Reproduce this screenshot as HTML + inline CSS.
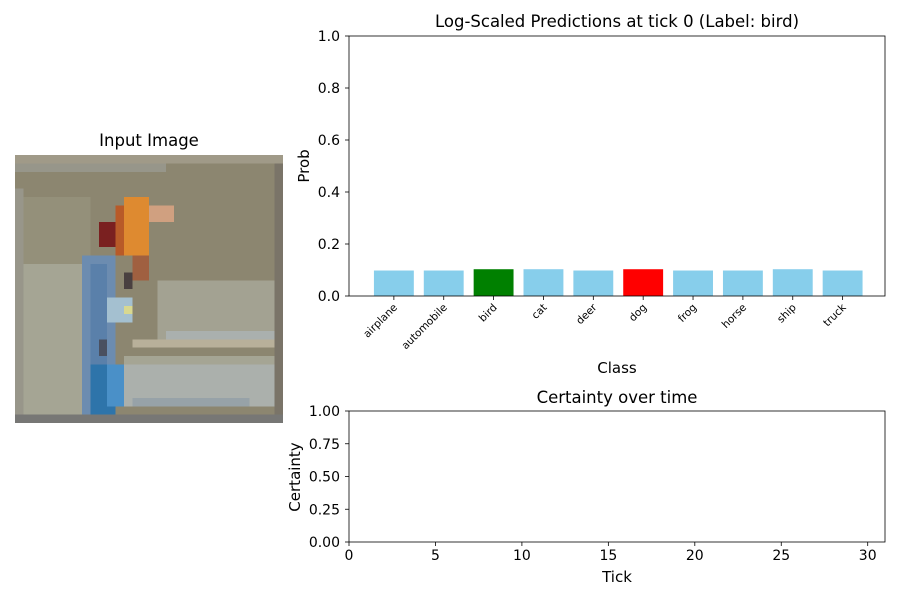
<!DOCTYPE html>
<html><head><meta charset="utf-8"><style>
body{margin:0;background:#fff;font-family:"Liberation Sans","DejaVu Sans",sans-serif}
svg text{font-family:"DejaVu Sans","Liberation Sans",sans-serif}
</style></head><body>
<svg id="fig" width="900" height="600" viewBox="0 0 900 600" xmlns="http://www.w3.org/2000/svg">
<rect width="900" height="600" fill="#fff"/>
<text x="149" y="146" font-size="16.5" text-anchor="middle">Input Image</text>
<g id="img" transform="translate(15,155) scale(8.375)" shape-rendering="crispEdges">
<rect x="0" y="0" width="32" height="32" fill="#8c8670"/>
<rect x="0" y="0" width="32" height="1" fill="#a09a88"/>
<rect x="0" y="1" width="18" height="1" fill="#97968a"/>
<rect x="0" y="4" width="1" height="27" fill="#98968a"/>
<rect x="1" y="5" width="8" height="10" fill="#94907a"/>
<rect x="1" y="13" width="7" height="18" fill="#a5a594"/>
<rect x="17" y="15" width="15" height="7" fill="#a3a292"/>
<rect x="18" y="21" width="14" height="1" fill="#aab0ae"/>
<rect x="14" y="22" width="17" height="1" fill="#b8b09a"/>
<rect x="14" y="23" width="18" height="1" fill="#8c8670"/>
<rect x="13" y="24" width="19" height="1" fill="#a5a594"/>
<rect x="13" y="25" width="18" height="5" fill="#abb0ac"/>
<rect x="14" y="29" width="14" height="1" fill="#97a2a8"/>
<rect x="31" y="1" width="1" height="30" fill="#7a7468"/>
<rect x="0" y="31" width="32" height="1" fill="#777775"/>
<rect x="13" y="5" width="3" height="7" fill="#de8a30"/>
<rect x="16" y="6" width="3" height="2" fill="#d0a080"/>
<rect x="12" y="6" width="1" height="6" fill="#b85a28"/>
<rect x="10" y="8" width="2" height="3" fill="#7a2020"/>
<rect x="14" y="12" width="2" height="3" fill="#a06040"/>
<rect x="13" y="14" width="1" height="2" fill="#4a4040"/>
<rect x="8" y="12" width="4" height="19" fill="#6c8cb0"/>
<rect x="9" y="13" width="2" height="18" fill="#5a80aa"/>
<rect x="9" y="25" width="3" height="6" fill="#2e74aa"/>
<rect x="11" y="25" width="2" height="5" fill="#4a90c8"/>
<rect x="11" y="17" width="3" height="3" fill="#a4c0d0"/>
<rect x="13" y="18" width="1" height="1" fill="#d8d890"/>
<rect x="10" y="22" width="1" height="2" fill="#4a5060"/>
</g>

<text x="617" y="27" font-size="16.5" text-anchor="middle">Log-Scaled Predictions at tick 0 (Label: bird)</text>
<g id="bars"></g>
<g id="bottom"></g>
</svg>
<script>
const categories=["airplane","automobile","bird","cat","deer","dog","frog","horse","ship","truck"];
const probs=[0.098,0.098,0.103,0.103,0.098,0.103,0.098,0.098,0.103,0.098];
const barColors=["#87ceeb","#87ceeb","#008000","#87ceeb","#87ceeb","#ff0000","#87ceeb","#87ceeb","#87ceeb","#87ceeb"];
const yTicks=[0,0.2,0.4,0.6,0.8,1.0];
const certTicksY=[0,0.25,0.5,0.75,1.0];
const tickX=[0,5,10,15,20,25,30];
const certainty=[];
const NS="http://www.w3.org/2000/svg";
function mk(p,t,a,txt){const e=document.createElementNS(NS,t);for(const k in a)e.setAttribute(k,a[k]);if(txt!==undefined)e.textContent=txt;p.appendChild(e);return e;}
const T={x0:349,x1:885,y0:36,y1:296};
const xs=i=>T.x0+(i+0.9)/10.75*(T.x1-T.x0);
const ys=v=>T.y1-v*(T.y1-T.y0);
const g=document.getElementById('bars');
categories.forEach((c,i)=>{
 const r=mk(g,'rect',{x:xs(i-0.4),y:ys(probs[i]),width:xs(0.4)-xs(-0.4),height:T.y1-ys(probs[i]),fill:barColors[i]});
 
 
 mk(g,'line',{x1:xs(i),x2:xs(i),y1:T.y1,y2:T.y1+4,stroke:'#000','stroke-width':0.8});
 const t=mk(g,'text',{x:0,y:0,'font-size':10.5,'text-anchor':'end',transform:`translate(${xs(i)+4},${T.y1+12}) rotate(-45)`},c);
 
 
});
yTicks.forEach(v=>{
 mk(g,'line',{x1:T.x0-4,x2:T.x0,y1:ys(v),y2:ys(v),stroke:'#000','stroke-width':0.8});
 mk(g,'text',{x:T.x0-9,y:ys(v)+5,'font-size':14,'text-anchor':'end'},v.toFixed(1));
});
mk(g,'rect',{x:T.x0,y:T.y0,width:T.x1-T.x0,height:T.y1-T.y0,fill:'none',stroke:'#000','stroke-width':0.8});
mk(g,'text',{x:617,y:373,'font-size':15,'text-anchor':'middle'},'Class');
mk(g,'text',{x:0,y:0,'font-size':15,'text-anchor':'middle',transform:'translate(309,166) rotate(-90)'},'Prob');
const B={x0:349,x1:885,y0:411,y1:542};
const bx=v=>B.x0+v/31*(B.x1-B.x0);
const by=v=>B.y1-v*(B.y1-B.y0);
const h=document.getElementById('bottom');
mk(h,'text',{x:617,y:403,'font-size':16.5,'text-anchor':'middle'},'Certainty over time');
tickX.forEach(v=>{
 mk(h,'line',{x1:bx(v),x2:bx(v),y1:B.y1,y2:B.y1+4,stroke:'#000','stroke-width':0.8});
 mk(h,'text',{x:bx(v),y:B.y1+18,'font-size':14,'text-anchor':'middle'},String(v));
});
certTicksY.forEach(v=>{
 mk(h,'line',{x1:B.x0-4,x2:B.x0,y1:by(v),y2:by(v),stroke:'#000','stroke-width':0.8});
 mk(h,'text',{x:B.x0-9,y:by(v)+5,'font-size':14,'text-anchor':'end'},v.toFixed(2));
});
if(certainty.length){mk(h,'polyline',{points:certainty.map((v,i)=>bx(i)+','+by(v)).join(' '),fill:'none',stroke:'#1f77b4','stroke-width':1.5});}
mk(h,'rect',{x:B.x0,y:B.y0,width:B.x1-B.x0,height:B.y1-B.y0,fill:'none',stroke:'#000','stroke-width':0.8});
mk(h,'text',{x:617,y:582,'font-size':15,'text-anchor':'middle'},'Tick');
mk(h,'text',{x:0,y:0,'font-size':15,'text-anchor':'middle',transform:'translate(300,477) rotate(-90)'},'Certainty');
</script>
</body></html>
